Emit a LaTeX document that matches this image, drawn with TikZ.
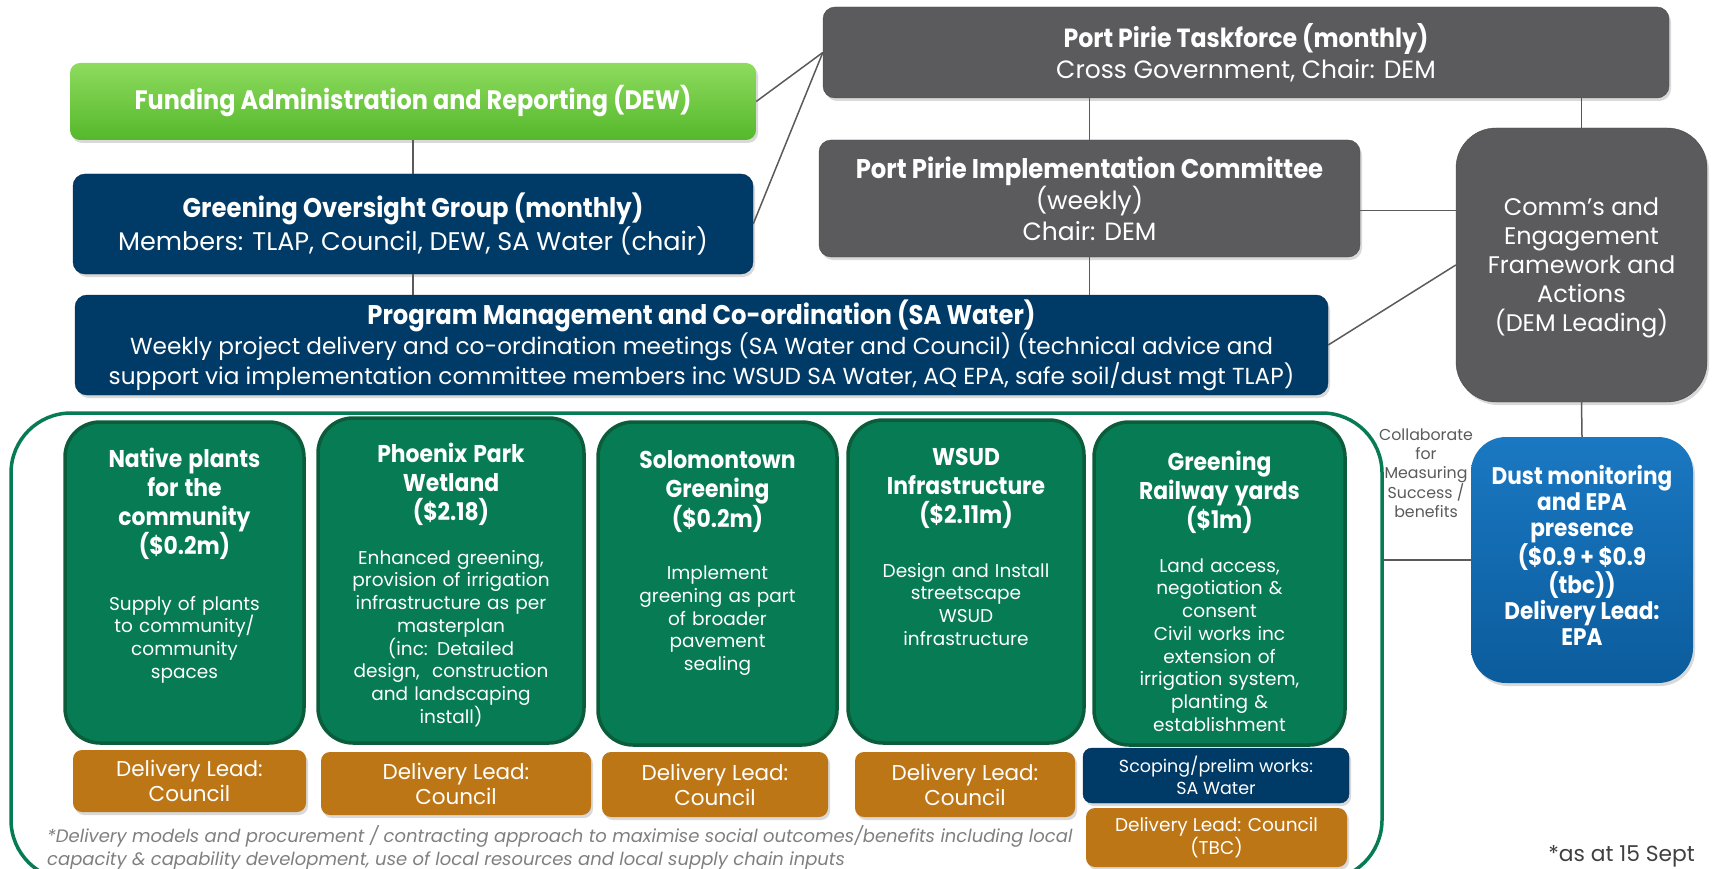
\documentclass[tikz,border=0pt]{standalone}
\usepackage{fontspec}
\setmainfont{Poppins}
\newfontfamily\hd{Poppins}[FakeStretch=0.9]
\usetikzlibrary{shadows}

\definecolor{navy}{HTML}{003A66}
\definecolor{slate}{HTML}{5B5B5D}
\definecolor{projgreen}{HTML}{067B54}
\definecolor{projedge}{HTML}{0B5C3B}
\definecolor{leadorange}{HTML}{BD7616}
\definecolor{linegray}{HTML}{5A5A5A}
\definecolor{fundtop}{HTML}{8EDB5E}
\definecolor{fundbot}{HTML}{55B82B}
\definecolor{dusttop}{HTML}{1A78C2}
\definecolor{dustbot}{HTML}{0B5C9C}
\definecolor{notegray}{HTML}{7F7F7F}

\newcommand\ptitle[2]{{\hd\bfseries\fontsize{24.3}{28.8}\selectfont #1\\[#2]}}

\begin{document}
\begin{tikzpicture}[
    x=1pt, y=-1pt,
    shade/.style={drop shadow={opacity=0.3, shadow xshift=2pt, shadow yshift=-3pt}},
    govbox/.style={rectangle, rounded corners=12pt, draw=slate!80!black, fill=slate, text=white, align=center, shade, font=\fontsize{25}{31}\selectfont},
    navybox/.style={rectangle, rounded corners=12pt, draw=navy!80!black, fill=navy, text=white, align=center, shade, font=\fontsize{25.5}{30}\selectfont},
    projbox/.style={rectangle, rounded corners=35pt, draw=projedge, line width=3.5pt, fill=projgreen},
    projtext/.style={anchor=north, inner sep=0pt, text=white, text width=236pt, align=center, font=\fontsize{18.5}{22.7}\selectfont},
    leadbox/.style={rectangle, rounded corners=9pt, fill=leadorange, text=white, align=center, shade, font=\fontsize{21.5}{25}\selectfont},
    link/.style={draw=linegray, line width=1.5pt}
]
\useasboundingbox (0,0) rectangle (1715,869);
\clip (0,0) rectangle (1715,869);

% Governance
\node[govbox, minimum width=846pt, minimum height=91pt] (taskforce) at (1246,52.5)
    {{\hd\bfseries\fontsize{26.3}{31}\selectfont Port Pirie Taskforce (monthly)}\\Cross Government, Chair: DEM};
\node[govbox, minimum width=541pt, minimum height=117pt] (impl) at (1089.5,198.5)
    {{\hd\bfseries\fontsize{27}{31}\selectfont Port Pirie Implementation Committee}\\(weekly)\\Chair: DEM};
\node[govbox, rounded corners=40pt, minimum width=251pt, minimum height=274pt, font=\fontsize{24}{29}\selectfont] (comms) at (1581.5,265)
    {\\[-6pt]Comm's and\\Engagement\\Framework and\\Actions\\(DEM Leading)};

\node[rectangle, rounded corners=10pt, top color=fundtop, bottom color=fundbot, text=white, shade,
    minimum width=686pt, minimum height=77pt, font=\hd\bfseries\fontsize{26.6}{30}\selectfont] (funding) at (413,101.5)
    {Funding Administration and Reporting (DEW)};
\node[navybox, minimum width=680pt, minimum height=100pt] (oversight) at (413,224)
    {{\hd\bfseries\fontsize{27}{30}\selectfont Greening Oversight Group (monthly)}\\Members: TLAP, Council, DEW, SA Water (chair)};
\node[navybox, minimum width=1253pt, minimum height=100pt, font=\fontsize{23.2}{30}\selectfont] (progmgmt) at (701.5,345)
    {{\hd\bfseries\fontsize{27}{30}\selectfont Program Management and Co-ordination (SA Water)}\\
     Weekly project delivery and co-ordination meetings (SA Water and Council) (technical advice and\\
     support via implementation committee members inc WSUD SA Water, AQ EPA, safe soil/dust mgt TLAP)};

% Projects
\node[rectangle, rounded corners=60pt, draw=projgreen, line width=3.5pt, minimum width=1371pt, minimum height=467pt] (projects) at (696.5,646.5) {};

\node[projbox, minimum width=239pt, minimum height=321pt] (native) at (184.5,582.5) {};
\node[projbox, minimum width=266pt, minimum height=325pt] (phoenix) at (451,580.5) {};
\node[projbox, minimum width=239pt, minimum height=323pt] (solomon) at (717.5,583.5) {};
\node[projbox, minimum width=236pt, minimum height=323pt] (wsud) at (966,581.5) {};
\node[projbox, minimum width=251pt, minimum height=323pt] (railway) at (1219.5,583.5) {};

\node[projtext] (nativetxt) at ([yshift=-28pt]native.north)
    {\ptitle{Native plants\\for the\\community\\(\$0.2m)}{33pt}Supply of plants\\to community/\\community\\spaces};
\node[projtext] (phoenixtxt) at ([yshift=-27pt]phoenix.north)
    {\ptitle{Phoenix Park\\Wetland\\(\$2.18)}{21pt}Enhanced greening,\\provision of irrigation\\infrastructure as per\\masterplan\\(inc: Detailed\\design,\ \ construction\\and landscaping\\install)};
\node[projtext] (solomontxt) at ([yshift=-30pt]solomon.north)
    {\ptitle{Solomontown\\Greening\\(\$0.2m)}{30pt}Implement\\greening as part\\of broader\\pavement\\sealing};
\node[projtext] (wsudtxt) at ([yshift=-30pt]wsud.north)
    {\ptitle{WSUD\\Infrastructure\\(\$2.11m)}{31pt}Design and Install\\streetscape\\WSUD\\infrastructure};
\node[projtext] (railwaytxt) at ([yshift=-31pt]railway.north)
    {\ptitle{Greening\\Railway yards\\(\$1m)}{21pt}Land access,\\negotiation \&\\consent\\Civil works inc\\extension of\\irrigation system,\\planting \&\\establishment};

% Delivery leads
\node[leadbox, minimum width=233pt, minimum height=62pt] (lead1) at (189.5,781) {Delivery Lead:\\Council};
\node[leadbox, minimum width=270pt, minimum height=63pt] (lead2) at (456,783.5) {Delivery Lead:\\Council};
\node[leadbox, minimum width=226pt, minimum height=65pt] (lead3) at (715,784.5) {Delivery Lead:\\Council};
\node[leadbox, minimum width=220pt, minimum height=65pt] (lead4) at (965,784.5) {Delivery Lead:\\Council};
\node[navybox, rounded corners=9pt, minimum width=266pt, minimum height=55pt, font=\fontsize{17.5}{22.5}\selectfont] (scoping) at (1216,775.5)
    {Scoping/prelim works:\\SA Water};
\node[leadbox, minimum width=261pt, minimum height=59pt, font=\fontsize{18.5}{23}\selectfont] (lead5) at (1216.5,837.5)
    {Delivery Lead: Council\\(TBC)};

\node[anchor=west, align=left, text=notegray, inner sep=0pt, font=\itshape\fontsize{18}{23}\selectfont] (note) at (47,848)
    {*Delivery models and procurement / contracting approach to maximise social outcomes/benefits including local\\
     capacity \& capability development, use of local resources and local supply chain inputs};

% EPA
\node[rectangle, rounded corners=35pt, top color=dusttop, bottom color=dustbot, shade,
    minimum width=222pt, minimum height=246pt] (dust) at (1582,560) {};
\node[text=white, align=center, inner sep=0pt, font=\hd\bfseries\fontsize{24}{25.9}\selectfont] (dusttxt) at ([yshift=5pt]dust.center)
    {Dust monitoring\\and EPA\\presence\\(\$0.9 + \$0.9\\(tbc))\\Delivery Lead:\\EPA};
\node[text=linegray, align=center, inner sep=0pt, font=\fontsize{15.8}{19}\selectfont] (collab) at (1426,473)
    {Collaborate\\for\\Measuring\\Success /\\benefits};
\node[anchor=east, text=black!75, inner sep=0pt, font=\fontsize{21.8}{24}\selectfont] (asat) at (1695,856) {*as at 15 Sept};

% Connectors
\draw[link] (funding) -- (oversight);
\draw[link] (oversight.south) -- (oversight.south |- progmgmt.north);
\draw[link] (taskforce.west) -- (funding.east);
\draw[link] (taskforce.west) -- (oversight.east);
\draw[link] (taskforce.south -| impl.north) -- (impl.north);
\draw[link, draw=projgreen] (taskforce.south -| comms.north) -- (comms.north);
\draw[link] ([yshift=-12pt]impl.east) -- ([yshift=-12pt]impl.east -| comms.west);
\draw[link] (impl.south) -- (impl.south |- progmgmt.north);
\draw[link] (progmgmt.east) -- (comms.west);
\draw[link] (comms.south) -- (dust.north);
\draw[link] (dust.west -| projects.east) -- (dust.west);

\end{tikzpicture}
\end{document}
